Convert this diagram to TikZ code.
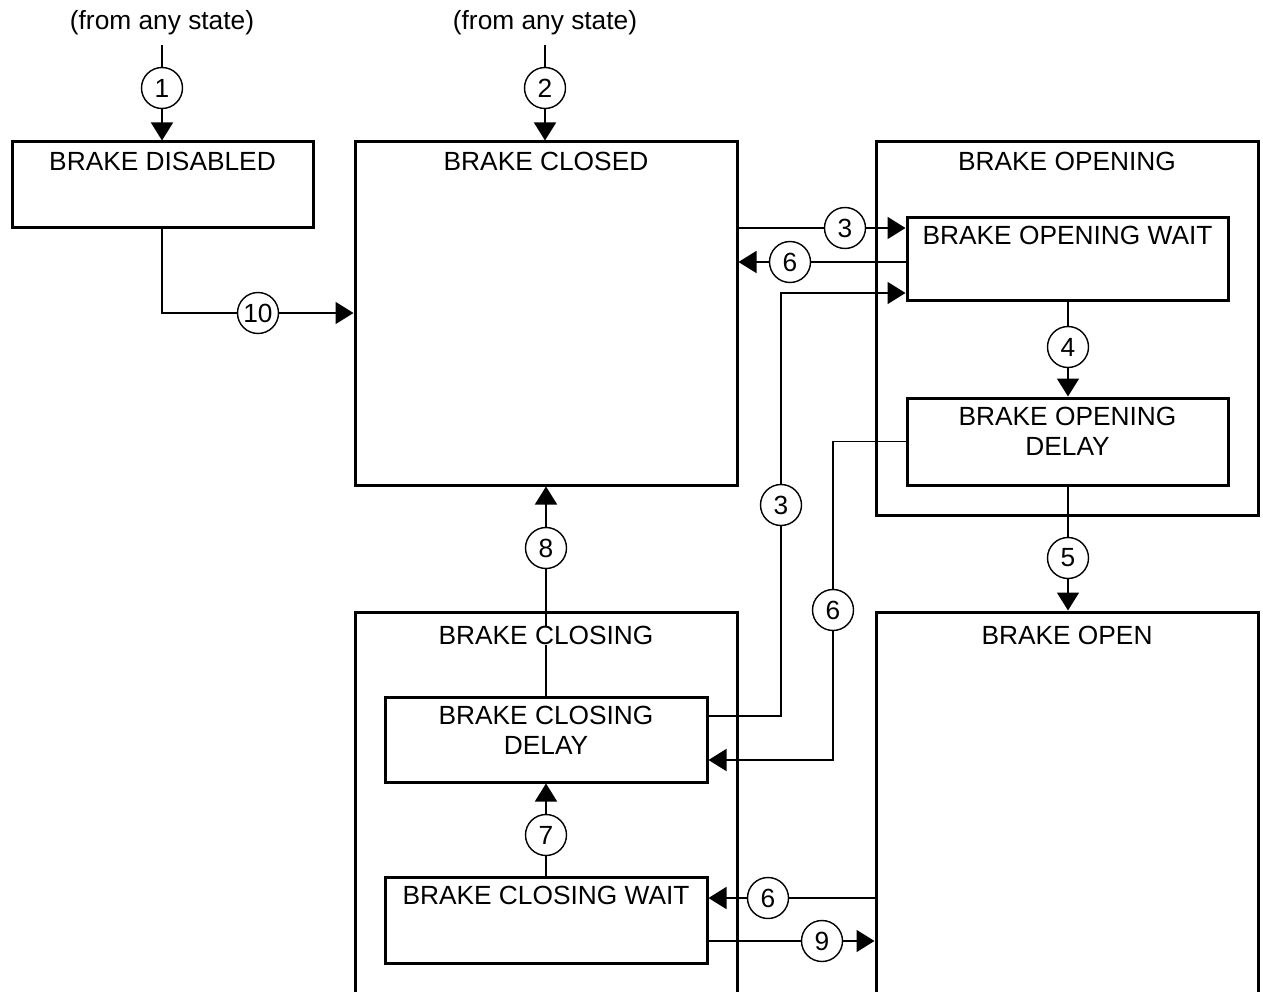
\documentclass[tikz,border=0pt]{standalone}
\usepackage{fontspec}
\setmainfont{Liberation Sans}
\usetikzlibrary{arrows.meta,calc}
\newcommand{\diagfont}{\fontsize{26.3pt}{30pt}\selectfont}
\begin{document}
\begin{tikzpicture}[x=1pt,y=-1pt,
  box/.style={draw, line width=3pt, rectangle, inner sep=0pt},
  lbl/.style={inner sep=0pt, align=center, font=\diagfont},
  num/.style={draw, circle, line width=1.4pt, minimum size=41pt, inner sep=0pt, fill=white, font=\diagfont},
  conn/.style={line width=1.7pt},
  arr/.style={conn, -{Triangle[length=18pt,width=22pt]}}]
\fill[white] (0,0) rectangle (1263,992);
\useasboundingbox (0,0) rectangle (1263,992);
\clip (0,0) rectangle (1263,992);
% boxes
\node[box, minimum width=301pt, minimum height=86pt] (dis) at (162.5,185) {};
\node[box, minimum width=382pt, minimum height=343pt] (closed) at (546,313.5) {};
\node[box, minimum width=382pt, minimum height=373pt] (opening) at (1067,328.5) {};
\node[box, minimum width=321pt, minimum height=82pt] (ow) at (1067.5,259) {};
\node[box, minimum width=321pt, minimum height=87pt] (od) at (1067.5,441.5) {};
\node[box, minimum width=382pt, minimum height=398pt] (open) at (1067,811) {};
\node[box, minimum width=382pt, minimum height=398pt] (closing) at (546,811) {};
\node[box, minimum width=322pt, minimum height=85pt] (cd) at (546,739.5) {};
\node[box, minimum width=322pt, minimum height=86pt] (cw) at (546,920) {};
% free ends and helper levels
\node[lbl] (t1) at (162,23) {(from any state)};
\node[lbl] (t2) at (545,23) {(from any state)};
\coordinate (s1) at (162,45);
\coordinate (s2) at (545,45);
\coordinate (y228) at (0,228);
\coordinate (y262) at (0,262);
\coordinate (y293) at (0,293);
\coordinate (y716) at (0,716);
\coordinate (y760) at (0,760);
\coordinate (y898) at (0,898);
\coordinate (y941) at (0,941);
% number circles
\node[num] (n1) at (162,88) {1};
\node[num] (n2) at (545,88) {2};
\node[num] (n3a) at (845,228) {3};
\node[num] (n6a) at (790,262) {6};
\node[num] (n10) at (258,313) {10};
\node[num] (n4) at (1068,347) {4};
\node[num] (n3b) at (781,505) {3};
\node[num] (n8) at (546,548) {8};
\node[num] (n5) at (1068,558) {5};
\node[num] (n6b) at (833,610) {6};
\node[num] (n7) at (546,835) {7};
\node[num] (n6c) at (768,898) {6};
\node[num] (n9) at (822,941) {9};
% connectors
\draw[conn] (s1) -- (n1);
\draw[arr] (n1) -- (dis.north -| n1);
\draw[conn] (s2) -- (n2);
\draw[arr] (n2) -- (closed.north -| n2);
\draw[conn] (dis.south -| n1) |- (n10);
\draw[arr] (n10) -- (closed.west |- n10);
\draw[conn] (closed.east |- y228) -- (n3a);
\draw[arr] (n3a) -- (ow.west |- y228);
\draw[conn] (ow.west |- y262) -- (n6a);
\draw[arr] (n6a) -- (closed.east |- y262);
\draw[conn] (cd.east |- y716) -| (n3b);
\draw[arr] (n3b) |- (ow.west |- y293);
\draw[conn] (od.west) -| (n6b);
\draw[arr] (n6b) |- (cd.east |- y760);
\draw[conn] (ow.south -| n4) -- (n4);
\draw[arr] (n4) -- (od.north -| n4);
\draw[conn] (od.south -| n5) -- (n5);
\draw[arr] (n5) -- (open.north -| n5);
\draw[conn] (cd.north) -- (n8);
\draw[arr] (n8) -- (closed.south);
\draw[conn] (cw.north) -- (n7);
\draw[arr] (n7) -- (cd.south);
\draw[conn] (open.west |- y898) -- (n6c);
\draw[arr] (n6c) -- (cw.east |- y898);
\draw[conn] (cw.east |- y941) -- (n9);
\draw[arr] (n9) -- (open.west |- y941);
% labels
\node[lbl] (ldis) at ([yshift=-21pt]dis.north) {BRAKE DISABLED};
\node[lbl] (lclosed) at ([yshift=-21pt]closed.north) {BRAKE CLOSED};
\node[lbl] (lopening) at ([yshift=-21pt]opening.north) {BRAKE OPENING};
\node[lbl] (low) at ([yshift=-19pt]ow.north) {BRAKE OPENING WAIT};
\node[lbl] (lod) at ([yshift=-35pt]od.north) {BRAKE OPENING\\DELAY};
\node[lbl] (lopen) at ([yshift=-25pt]open.north) {BRAKE OPEN};
\node[lbl, fill=white] (lclosing) at ([yshift=-25pt]closing.north) {BRAKE CLOSING};
\node[lbl] (lcd) at ([yshift=-35pt]cd.north) {BRAKE CLOSING\\DELAY};
\node[lbl] (lcw) at ([yshift=-20pt]cw.north) {BRAKE CLOSING WAIT};
\end{tikzpicture}
\end{document}
